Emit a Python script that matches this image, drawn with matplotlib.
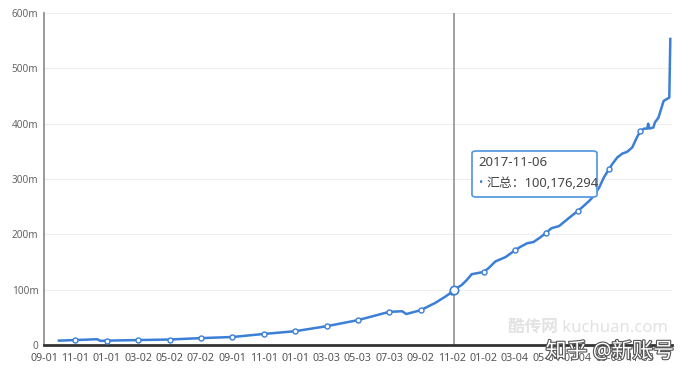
import matplotlib
matplotlib.use("Agg")
import matplotlib.pyplot as plt
import matplotlib.patheffects as pe
from matplotlib.patches import FancyBboxPatch
import pandas as pd

plt.rcParams['font.family'] = ['Noto Sans', 'Noto Sans CJK SC', 'DejaVu Sans']

# daily category axis, labels every 61 days
start = pd.Timestamp("2015-09-01")
end = pd.Timestamp("2018-12-31")
tick_step = 61

# cumulative downloads (millions)
dates = [
    "2015-09-30", "2015-11-01", "2015-12-13", "2015-12-20", "2016-01-01",
    "2016-03-02", "2016-05-02", "2016-07-02", "2016-09-01", "2016-11-01",
    "2017-01-01", "2017-03-03", "2017-05-03", "2017-07-03", "2017-07-28",
    "2017-08-05", "2017-09-02", "2017-09-30", "2017-10-19", "2017-11-02",
    "2017-11-06", "2017-11-20", "2017-11-30", "2017-12-10", "2018-01-02",
    "2018-01-12", "2018-01-25", "2018-02-04", "2018-02-14", "2018-03-04",
    "2018-03-14", "2018-03-28", "2018-04-09", "2018-04-23", "2018-05-04",
    "2018-05-14", "2018-05-29", "2018-06-11", "2018-06-23", "2018-07-04",
    "2018-07-13", "2018-07-27", "2018-08-05", "2018-08-15", "2018-08-24",
    "2018-09-03", "2018-09-10", "2018-09-19", "2018-09-29", "2018-10-08",
    "2018-10-18", "2018-10-27", "2018-11-03", "2018-11-10", "2018-11-16",
    "2018-11-18", "2018-11-20", "2018-11-24", "2018-11-28", "2018-12-01",
    "2018-12-08", "2018-12-14", "2018-12-18", "2018-12-29", "2018-12-31",
]
values = [
    8, 9, 10.5, 7.5, 8,
    9, 10, 12.5, 14.5, 20,
    25, 34, 45, 60, 61,
    56, 63, 76, 87, 96,
    100.176294, 108, 117, 128, 132,
    139, 151, 155, 159, 171,
    177, 184, 186, 195, 203,
    211, 215, 225, 234, 242,
    249, 261, 270, 285, 303,
    318, 328, 339, 346, 349,
    357, 375, 387, 391, 391,
    400, 391, 392, 393, 402,
    411, 429, 441, 447, 553,
]

hover_date = "2017-11-06"
hover_label = "汇总：100,176,294"

n_days = (end - start).days
xs = [(pd.Timestamp(d) - start).days for d in dates]
tick_pos = list(range(0, n_days + 1, tick_step))
tick_labels = [(start + pd.Timedelta(days=t)).strftime("%m-%d") for t in tick_pos]
marks = [i for i, x in enumerate(xs) if x in tick_pos and x > 0]

fig = plt.figure(figsize=(6.93, 3.8), dpi=100)
ax = fig.add_axes([0.0635, 0.092, 0.906, 0.874])

line_blue = "#3b7fd6"
ax.plot(xs, values, color=line_blue, lw=1.8, marker="o", markersize=3.6,
        markerfacecolor="white", markeredgecolor=line_blue, markeredgewidth=1.0,
        markevery=marks, zorder=3)

hx = (pd.Timestamp(hover_date) - start).days
ax.axvline(hx, color="#9a9a9a", lw=1.3, zorder=2)
ax.plot([hx], [values[dates.index(hover_date)]], "o", markersize=6,
        markerfacecolor="white", markeredgecolor=line_blue, markeredgewidth=1.2, zorder=4)

ax.set_xlim(0, n_days + 3)
ax.set_ylim(0, 600)
ax.set_yticks(range(0, 601, 100))
ax.set_yticklabels(["0"] + [f"{v}m" for v in range(100, 601, 100)])
ax.set_xticks(tick_pos)
ax.set_xticklabels(tick_labels)
ax.tick_params(axis="x", length=0, pad=6, labelsize=7.7, colors="#555555")
ax.tick_params(axis="y", length=0, pad=4, labelsize=7.2, colors="#666666")
ax.grid(axis="y", color="#eeeeee", lw=0.8)
ax.set_axisbelow(True)
for s in ["top", "right"]:
    ax.spines[s].set_visible(False)
ax.spines["left"].set_color("#888888")
ax.spines["left"].set_linewidth(1.2)
ax.spines["bottom"].set_color("#333333")
ax.spines["bottom"].set_linewidth(2)

# tooltip
box = FancyBboxPatch((472 / 693, 1 - 197 / 380), 125 / 693, 46 / 380,
                     boxstyle="round,pad=0,rounding_size=0.006",
                     transform=fig.transFigure, facecolor="white",
                     edgecolor="#5b9be0", lw=1.3, zorder=10)
fig.patches.append(box)
fig.text(478 / 693, 1 - 163 / 380, hover_date, fontsize=9.5, color="#444444",
         va="center", ha="left", zorder=11)
fig.text(478.5 / 693, 1 - 183 / 380, "•", fontsize=8, color=line_blue,
         va="center", ha="left", zorder=11)
fig.text(486 / 693, 1 - 183 / 380, hover_label, fontsize=9.3, color="#444444",
         va="center", ha="left", zorder=11)

# watermarks
fig.text(588 / 693, 1 - 328 / 380, "酷传网 kuchuan.com", fontsize=12, color="#e2e2e2",
         fontweight="bold", ha="center", va="center")
fig.text(610 / 693, 1 - 352 / 380, "知乎 @新账号", fontsize=15, color="white",
         ha="center", va="center",
         path_effects=[pe.withStroke(linewidth=1.6, foreground="#555555")])

fig.savefig("out.png", dpi=100)
